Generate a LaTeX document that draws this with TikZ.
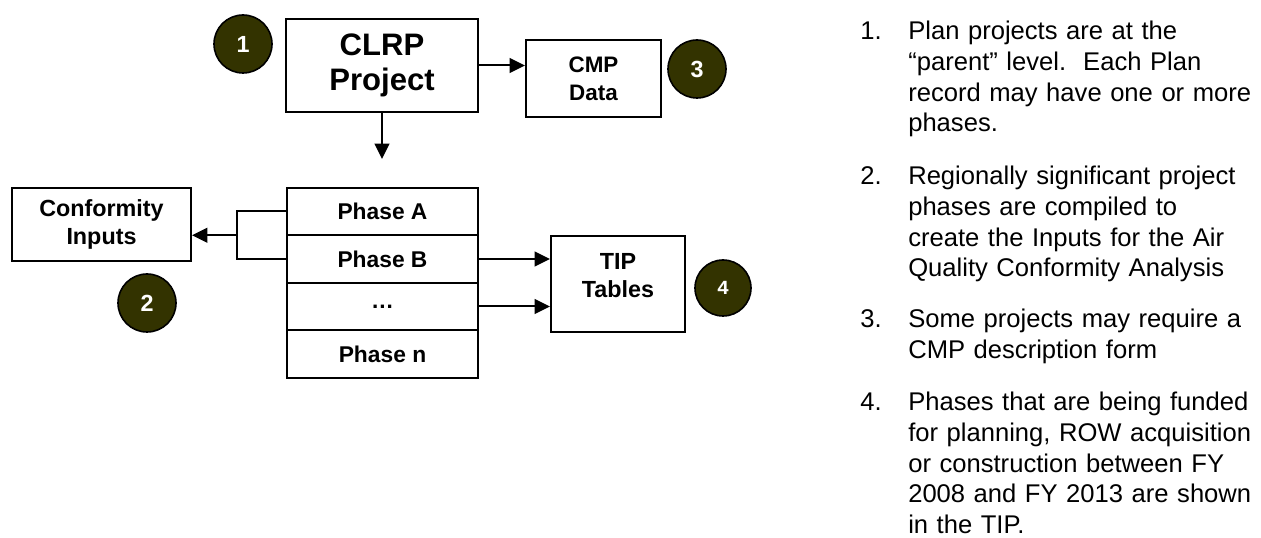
\documentclass[tikz,border=0pt]{standalone}
\usepackage{fontspec}
\setmainfont{Liberation Sans}
\newfontfamily\digitfont{Liberation Mono}
\usetikzlibrary{calc,arrows.meta,positioning}
\definecolor{bulletolive}{RGB}{51,51,0}

\begin{document}
\begin{tikzpicture}[x=0.75pt,y=-0.75pt,
		box/.style={draw, line width=1.5pt, align=center, inner sep=0pt},
		numdot/.style={circle, draw, line width=1.2pt, fill=bulletolive, text=white, inner sep=0pt, minimum size=43.5pt, font=\bfseries\fontsize{17.5}{20}\selectfont},
		flow/.style={-{Triangle[length=11.5pt,width=11pt]}, line width=1.5pt},
		item/.style={anchor=base west, inner sep=0pt, font=\fontsize{19.2}{22.9}\selectfont}]
			\useasboundingbox (0,0) rectangle (1261,538);
			\node[box, minimum width=144pt, minimum height=69.75pt, font=\bfseries\fontsize{23.3}{26.3}\selectfont] (clrp) at (382,65.5) {CLRP\\Project};
			\node[box, minimum width=101.25pt, minimum height=57.75pt, font=\bfseries\fontsize{16.8}{21}\selectfont] (cmp) at (593.5,78.5) {CMP\\Data};
			\foreach \name/\txt [count=\i] in {pA/Phase A, pB/Phase B, pdots/\dots, pn/Phase n}
				\node[box, minimum width=143.25pt, minimum height=35.6pt, font=\bfseries\fontsize{17.1}{20}\selectfont] (\name) at (382.5,164+47.5*\i) {\txt};
			\node[box, minimum width=134.25pt, minimum height=54.75pt, font=\bfseries\fontsize{17.5}{21}\selectfont] (conf) at (101.5,224.5) {Conformity\\Inputs};
			\node[box, minimum width=100.5pt, minimum height=72pt, label={[align=center, yshift=6pt, font=\bfseries\fontsize{17.5}{21}\selectfont]center:TIP\\Tables}] (tip) at (618,284) {};

			\node[numdot] (c1) at (243,44) {1};
			\node[numdot] (c2) at (147,303) {2};
			\node[numdot] (c3) at (697,69) {3};
			\node[numdot, minimum size=42pt, font=\digitfont\bfseries\fontsize{15}{18}\selectfont] (c4) at (723,288) {4};

			\coordinate (down) at (382,159);
			\coordinate (join) at ($(pA.west)!0.5!(pB.west)+(-49,0)$);
			\draw[flow] (clrp.east) -- (clrp.east -| cmp.west);
			\draw[flow] (clrp.south) -- (down);
			\draw[line width=1.5pt] (pA.west) -- ++(-49,0) |- (pB.west);
			\draw[flow] (join) -- (join -| conf.east);
			\draw[flow] (pB.east) -- (pB.east -| tip.west);
			\draw[flow] (pdots.east) -- (pdots.east -| tip.west);

			\node[item] (n1) at (860,40) {1.};
			\node[item, text width=275pt, align=left] (t1) at (908,40) {Plan projects are at the\\“parent” level.\ \ Each Plan\\record may have one or more\\phases.};
			\node[item] (n2) at (860,185) {2.};
			\node[item, text width=275pt, align=left] (t2) at (908,185) {Regionally significant project\\phases are compiled to\\create the Inputs for the Air\\Quality Conformity Analysis};
			\node[item] (n3) at (860,328) {3.};
			\node[item, text width=275pt, align=left] (t3) at (908,328) {Some projects may require a\\CMP description form};
			\node[item] (n4) at (860,411) {4.};
			\node[item, text width=275pt, align=left] (t4) at (908,411) {Phases that are being funded\\for planning, ROW acquisition\\or construction between FY\\2008 and FY 2013 are shown\\in the TIP.};
		\end{tikzpicture}
\end{document}
